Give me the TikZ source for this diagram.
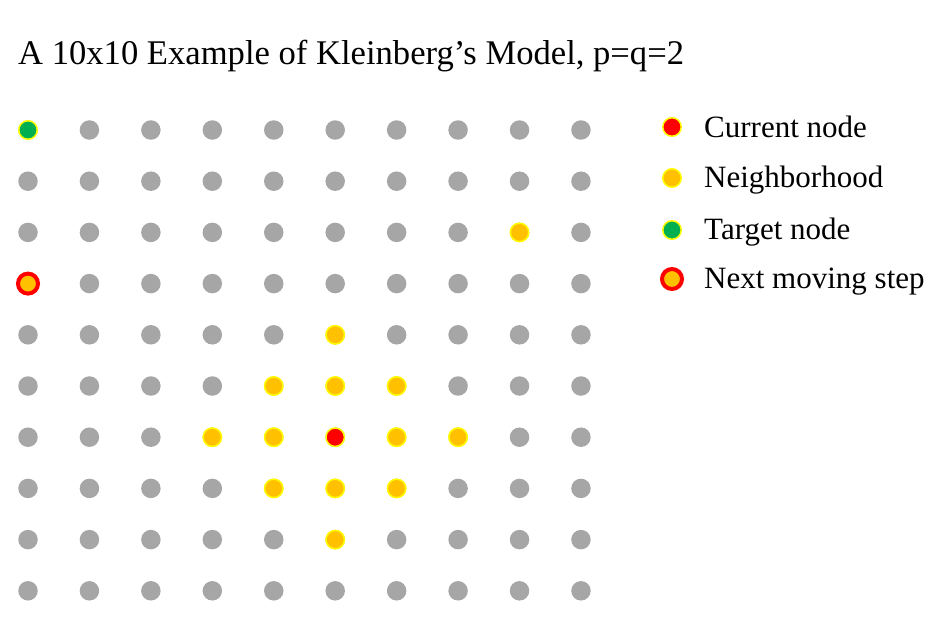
\documentclass[tikz,border=0pt]{standalone}
\usepackage{fontspec}
\setmainfont{Liberation Serif}
\definecolor{dotgray}{HTML}{A6A6A6}
\definecolor{nbor}{HTML}{FFC000}
\definecolor{ringy}{HTML}{FFFF00}
\definecolor{curred}{HTML}{FF0000}
\definecolor{tgt}{HTML}{00B050}
\tikzset{
  dot/.style={circle,inner sep=0pt,minimum size=19.5pt,fill=dotgray},
  nbdot/.style={circle,inner sep=0pt,minimum size=18.5pt,fill=nbor,draw=ringy,line width=1.5pt},
  curdot/.style={circle,inner sep=0pt,minimum size=18.5pt,fill=curred,draw=ringy,line width=1.5pt},
  tgtdot/.style={circle,inner sep=0pt,minimum size=18.5pt,fill=tgt,draw=ringy,line width=1.5pt},
  nextdot/.style={circle,inner sep=0pt,minimum size=20pt,fill=nbor,draw=curred,line width=4pt},
  legtext/.style={anchor=base west,inner sep=0pt,font=\fontsize{31}{36}\selectfont},
}
\begin{document}
\begin{tikzpicture}[x=1pt,y=-1pt]
\useasboundingbox (0,0) rectangle (931,643);
\node[anchor=base west,inner sep=0pt,font=\fontsize{34.6}{40}\selectfont] (title) at (18,64) {A 10x10 Example of Kleinberg’s Model, p=q=2};
% grid
\foreach \i in {0,...,9}{
  \foreach \j in {0,...,9}{
    \node[dot] (d-\i-\j) at ({28+61.44*\i},{130+51.2*\j}) {};
  }
}
% highlighted
\foreach \i/\j in {5/4,4/5,5/5,6/5,3/6,4/6,6/6,7/6,4/7,5/7,6/7,5/8,8/2}{
  \node[nbdot] (n-\i-\j) at (d-\i-\j) {};
}
\node[curdot] (cur) at (d-5-6) {};
\node[tgtdot] (tgt) at (d-0-0) {};
\node[nextdot] (next) at (d-0-3) {};
% legend
\node[curdot] (l1) at (672,127) {};
\node[nbdot] (l2) at (672,178) {};
\node[tgtdot] (l3) at (672,230) {};
\node[nextdot] (l4) at (672,279) {};
\node[legtext] (t1) at (704,137) {Current node};
\node[legtext] (t2) at (704,187) {Neighborhood};
\node[legtext] (t3) at (704,239) {Target node};
\node[legtext] (t4) at (704,288) {Next moving step};
\end{tikzpicture}
\end{document}
